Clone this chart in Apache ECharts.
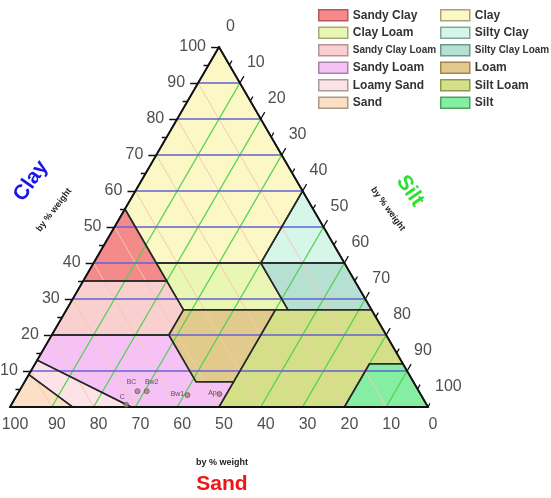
<!DOCTYPE html>
<html>
<head>
<meta charset="utf-8">
<script src="https://cdn.jsdelivr.net/npm/echarts@6/dist/echarts.min.js"></script>
<style>
  * { margin: 0; padding: 0; }
  #main { width: 551px; height: 498px; background: #fff; }
</style>
</head>
<body>
<div id="main"></div>
<script>
// soil texture classes, vertices given as [sand, silt, clay] in %
var classNames = ['Sandy Clay', 'Clay Loam', 'Sandy Clay Loam', 'Sandy Loam', 'Loamy Sand', 'Sand',
                  'Clay', 'Silty Clay', 'Silty Clay Loam', 'Loam', 'Silt Loam', 'Silt'];
var classColors = ['#f48a8a', '#eaf6b4', '#f9d0cf', '#f6c2f6', '#fde3e8', '#fbe0c6',
                   '#fbf8c6', '#d6f6ea', '#b6e1d2', '#e2ca8c', '#d4df88', '#84efa2'];
var classBorders = ['#b85858', '#a4aa78', '#b49494', '#a884a8', '#aa9a9e', '#aa9888',
                    '#a8a478', '#84a898', '#6e9888', '#a08850', '#8c9850', '#50a066'];
var classPolygons = [
  [[45, 0, 55], [65, 0, 35], [45, 20, 35]],
  [[45, 15, 40], [20, 40, 40], [20, 53, 27], [45, 28, 27]],
  [[65, 0, 35], [45, 20, 35], [45, 28, 27], [52, 28, 20], [80, 0, 20]],
  [[80, 0, 20], [52, 28, 20], [52, 41, 7], [43, 50, 7], [50, 50, 0], [71, 29, 0], [87, 0, 13]],
  [[87, 0, 13], [71, 29, 0], [85, 15, 0], [91, 0, 9]],
  [[91, 0, 9], [85, 15, 0], [100, 0, 0]],
  [[0, 0, 100], [45, 0, 55], [45, 15, 40], [20, 40, 40], [0, 40, 60]],
  [[0, 40, 60], [20, 40, 40], [0, 60, 40]],
  [[20, 40, 40], [0, 60, 40], [0, 73, 27], [20, 53, 27]],
  [[45, 28, 27], [23, 50, 27], [43, 50, 7], [52, 41, 7], [52, 28, 20]],
  [[23, 50, 27], [0, 73, 27], [0, 88, 12], [8, 80, 12], [20, 80, 0], [50, 50, 0], [43, 50, 7]],
  [[8, 80, 12], [0, 88, 12], [0, 100, 0], [20, 80, 0]]
];
var leftColumn = ['Sandy Clay', 'Clay Loam', 'Sandy Clay Loam', 'Sandy Loam', 'Loamy Sand', 'Sand'];
var rightColumn = ['Clay', 'Silty Clay', 'Silty Clay Loam', 'Loam', 'Silt Loam', 'Silt'];

var gridValues = [10, 20, 30, 40, 50, 60, 70, 80, 90];
var majorTicks = [0, 10, 20, 30, 40, 50, 60, 70, 80, 90, 100];
var minorTicks = [5, 15, 25, 35, 45, 55, 65, 75, 85, 95];
var clayLabels = [10, 20, 30, 40, 50, 60, 70, 80, 90, 100];

// horizon samples
var sampleNames = ['BC', 'Bw2', 'Bw1', 'Ap', 'C'];
var sampleSand = [67.3, 65.1, 55.9, 48.1, 71.9];
var sampleSilt = [28.3, 30.5, 40.8, 48.3, 27.5];
var sampleClay = [4.4, 4.4, 3.3, 3.6, 0.6];

// ternary -> cartesian (x: silt + clay/2, y: clay)
function toXY(sand, silt, clay) {
  return [silt + clay / 2, clay];
}

var chart = echarts.init(document.getElementById('main'));

var series = [];
classNames.forEach(function (name, i) {
  series.push({
    name: name,
    type: 'custom',
    clip: false,
    z: 1,
    itemStyle: { color: classColors[i] },
    data: [0],
    renderItem: function (params, api) {
      return {
        type: 'polygon',
        shape: { points: classPolygons[i].map(function (p) { return api.coord(toXY(p[0], p[1], p[2])); }) },
        style: { fill: classColors[i], stroke: null }
      };
    }
  });
});

function lineData(list) {
  return list.map(function (c) { return { coords: c }; });
}

var clayLines = gridValues.map(function (c) { return [toXY(100 - c, 0, c), toXY(0, 100 - c, c)]; });
var siltLines = gridValues.map(function (s) { return [toXY(100 - s, s, 0), toXY(0, s, 100 - s)]; });
var sandLines = gridValues.map(function (a) { return [toXY(a, 100 - a, 0), toXY(a, 0, 100 - a)]; });

series.push({ type: 'lines', coordinateSystem: 'cartesian2d', z: 2, silent: true,
  lineStyle: { color: '#f3c9ae', width: 1, opacity: 1 }, data: lineData(sandLines) });
series.push({ type: 'lines', coordinateSystem: 'cartesian2d', z: 2, silent: true,
  lineStyle: { color: '#4fd24f', width: 1.3, opacity: 1 }, data: lineData(siltLines) });
series.push({ type: 'lines', coordinateSystem: 'cartesian2d', z: 2, silent: true,
  lineStyle: { color: '#6262d4', width: 1.6, opacity: 1 }, data: lineData(clayLines) });

// class boundaries
series.push({
  type: 'custom', clip: false, z: 3, silent: true, data: [0],
  renderItem: function (params, api) {
    return {
      type: 'group',
      children: classPolygons.map(function (poly) {
        return {
          type: 'polygon',
          shape: { points: poly.map(function (p) { return api.coord(toXY(p[0], p[1], p[2])); }) },
          style: { fill: null, stroke: '#2a2a2a', lineWidth: 1.5 }
        };
      })
    };
  }
});

// outer triangle
series.push({ type: 'lines', coordinateSystem: 'cartesian2d', z: 4, silent: true,
  lineStyle: { color: '#111', width: 1.8, opacity: 1 },
  data: lineData([[toXY(100, 0, 0), toXY(0, 100, 0)], [toXY(0, 100, 0), toXY(0, 0, 100)], [toXY(0, 0, 100), toXY(100, 0, 0)]]) });

// ticks
function ticks(values, t) {
  var out = [];
  values.forEach(function (v) {
    out.push([toXY(100 - v, 0, v), toXY(100 - v + t, -t, v)]);          // clay, left edge
    out.push([toXY(0, v, 100 - v), toXY(-t, v, 100 - v + t)]);          // silt, right edge
    out.push([toXY(v, 100 - v, 0), toXY(v, 100 - v + t, -t)]);          // sand, bottom edge
  });
  return out;
}
series.push({ type: 'lines', coordinateSystem: 'cartesian2d', z: 4, silent: true,
  lineStyle: { color: '#111', width: 1.3, opacity: 1 }, data: lineData(ticks(majorTicks, 1.9).concat(ticks(minorTicks, 1.2))) });

var tickFont = { fontSize: 16, fontFamily: 'Liberation Sans', color: '#222' };
series.push({ type: 'scatter', clip: false, silent: true, z: 5, symbolSize: 0,
  data: clayLabels.map(function (c) { return toXY(100 - c, 0, c).concat([c]); }),
  label: Object.assign({ show: true, position: 'left', distance: 13, formatter: function (p) { return p.data[2]; } }, tickFont) });
series.push({ type: 'scatter', clip: false, silent: true, z: 5, symbolSize: 0,
  data: majorTicks.map(function (s) { return toXY(0, s, 100 - s).concat([s]); }),
  label: Object.assign({ show: true, position: 'right', distance: 7, offset: [0, -20], formatter: function (p) { return p.data[2]; } }, tickFont) });
series.push({ type: 'scatter', clip: false, silent: true, z: 5, symbolSize: 0,
  data: majorTicks.map(function (a) { return toXY(a, 100 - a, 0).concat([a]); }),
  label: Object.assign({ show: true, position: 'bottom', distance: 10, offset: [5, 0], formatter: function (p) { return p.data[2]; } }, tickFont) });

// samples
var labelOffsets = { BC: [-6, -9], Bw2: [5, -9], Bw1: [-10, -1], Ap: [-7, -1], C: [-4, -8] };
series.push({
  type: 'scatter', clip: false, z: 6, symbol: 'circle', symbolSize: 5,
  itemStyle: { color: '#a48c74', borderColor: '#5a4a3a', borderWidth: 0.8 },
  data: sampleNames.map(function (n, i) {
    return {
      value: toXY(sampleSand[i], sampleSilt[i], sampleClay[i]),
      label: { show: true, formatter: n, position: 'inside', offset: labelOffsets[n], fontSize: 7, color: '#333', fontFamily: 'Liberation Sans' }
    };
  })
});

function legendItems(names) {
  return names.map(function (n) {
    var i = classNames.indexOf(n);
    var narrow = n === 'Sandy Clay Loam' || n === 'Silty Clay Loam';
    return {
      name: n,
      itemStyle: { color: classColors[i], borderColor: classBorders[i], borderWidth: 1.5 },
      textStyle: narrow ? { fontSize: 10, fontWeight: 'bold' } : {}
    };
  });
}
var legendBase = {
  orient: 'vertical', top: 9, padding: 0, itemWidth: 29, itemHeight: 11, itemGap: 5, icon: 'rect', selectedMode: false,
  textStyle: { fontSize: 12, fontWeight: 'bold', color: '#333', fontFamily: 'Liberation Sans' }
};

chart.setOption({
  animation: false,
  grid: { left: 10, right: 123, top: 47, bottom: 91 },
  xAxis: { type: 'value', min: 0, max: 100, show: false },
  yAxis: { type: 'value', min: 0, max: 100, show: false },
  legend: [
    Object.assign({ left: 318, data: legendItems(leftColumn) }, legendBase),
    Object.assign({ left: 440, data: legendItems(rightColumn) }, legendBase)
  ],
  graphic: [
    { type: 'text', x: 31, y: 181, rotation: 0.96, style: { text: 'Clay', font: 'bold 21px "Liberation Sans"', fill: '#1616e6', align: 'center', verticalAlign: 'middle' } },
    { type: 'text', x: 54, y: 210, rotation: 0.92, style: { text: 'by % weight', font: 'bold 9px "Liberation Sans"', fill: '#222', align: 'center', verticalAlign: 'middle' } },
    { type: 'text', x: 410, y: 191, rotation: -0.96, style: { text: 'Silt', font: 'bold 21px "Liberation Sans"', fill: '#2ee02e', align: 'center', verticalAlign: 'middle' } },
    { type: 'text', x: 388, y: 209, rotation: -0.94, style: { text: 'by % weight', font: 'bold 9px "Liberation Sans"', fill: '#222', align: 'center', verticalAlign: 'middle' } },
    { type: 'text', x: 222, y: 463, style: { text: 'by % weight', font: 'bold 9px "Liberation Sans"', fill: '#222', align: 'center', verticalAlign: 'middle' } },
    { type: 'text', x: 222, y: 484, style: { text: 'Sand', font: 'bold 21px "Liberation Sans"', fill: '#f01414', align: 'center', verticalAlign: 'middle' } }
  ],
  series: series
});
</script>
</body>
</html>
